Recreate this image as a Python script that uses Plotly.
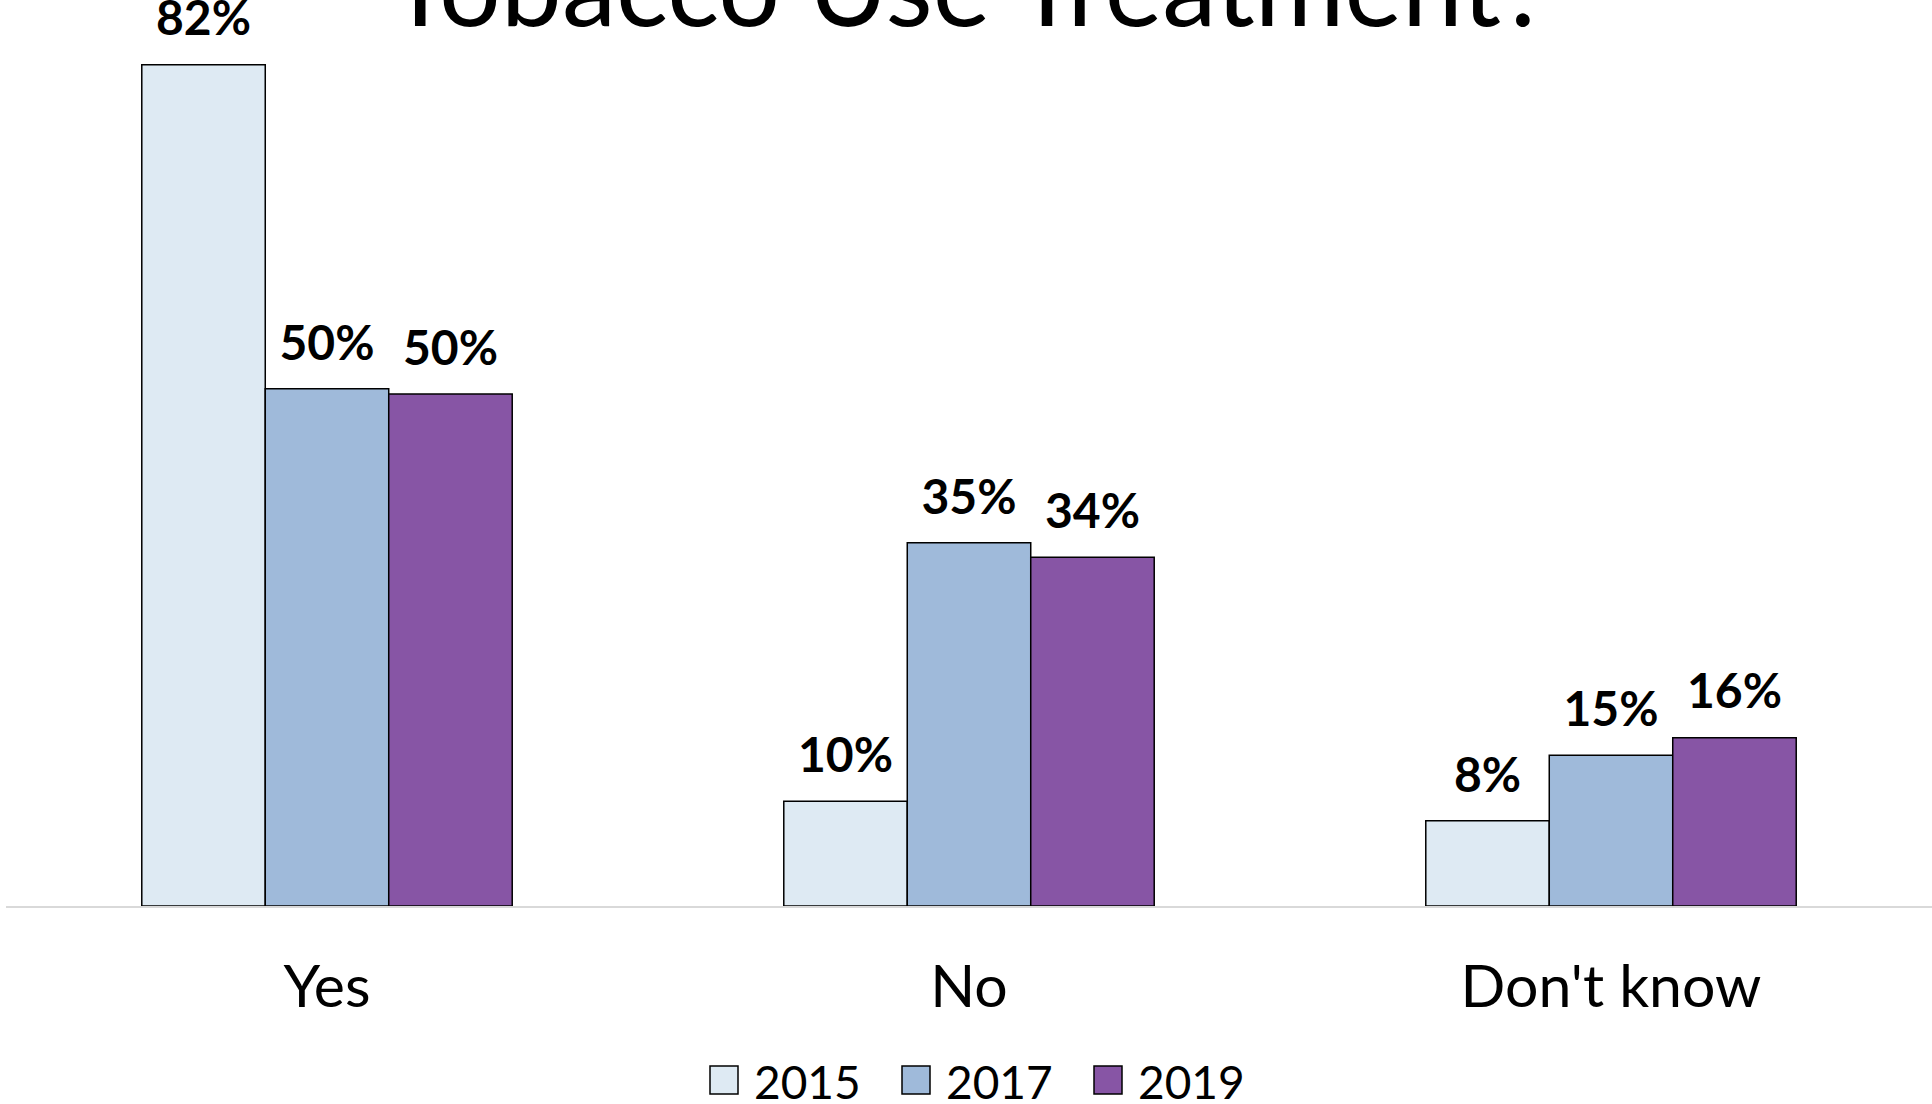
import plotly.graph_objects as go

# data
categories = ["Yes", "No", "Don't know"]
years = ["2015", "2017", "2019"]
values_2015 = [0.82, 0.102, 0.083]
values_2017 = [0.504, 0.354, 0.147]
values_2019 = [0.499, 0.340, 0.164]
colors = ["#DEEAF3", "#9FBADA", "#8755A5"]
title_text = "Tobacco Use Treatment?"

FONT = "Lato"
series = [values_2015, values_2017, values_2019]

fig = go.Figure()
for year, vals, color in zip(years, series, colors):
    fig.add_trace(go.Bar(
        x=categories, y=vals, name=year, offsetgroup=year,
        marker=dict(color=color, line=dict(color="black", width=1.5)),
        showlegend=False))
# value labels as grouped text points, an invisible marker keeps them off the bar top
for year, vals in zip(years, series):
    fig.add_trace(go.Scatter(
        x=categories, y=vals, offsetgroup=year, mode="markers+text",
        marker=dict(size=26, color="rgba(0,0,0,0)"),
        texttemplate="<b>%{y:.0%}</b>", textposition="top center",
        textfont=dict(family=FONT, size=48, color="black"),
        cliponaxis=False, showlegend=False, hoverinfo="skip"))

# legend drawn by hand so the swatches can be large
plot_left, plot_w = 6, 1926
shapes, annos = [], []
for i, (year, color) in enumerate(zip(years, colors)):
    ax = (710 + i * 192 - plot_left) / plot_w
    shapes.append(dict(type="rect", xref="paper", yref="paper",
                       xsizemode="pixel", ysizemode="pixel",
                       xanchor=ax, yanchor=0, x0=0, x1=28, y0=-160, y1=-188,
                       fillcolor=color, line=dict(color="black", width=1.5)))
    annos.append(dict(text=year, xref="paper", yref="paper", x=ax, y=0,
                      xshift=42, yshift=-175, xanchor="left", yanchor="middle",
                      showarrow=False, font=dict(family=FONT, size=46, color="black")))

annos.append(dict(text=title_text, xref="paper", yref="paper", x=0.5, y=1,
                  yshift=-31, xanchor="center", yanchor="bottom", showarrow=False,
                  font=dict(family=FONT, size=109, color="black")))

fig.update_layout(
    width=1932, height=1104,
    margin=dict(l=6, r=0, t=20, b=198),
    paper_bgcolor="white", plot_bgcolor="white",
    barmode="group", bargap=0.423, bargroupgap=0,
    scattermode="group", scattergap=0.423,
    shapes=shapes, annotations=annos,
    xaxis=dict(showline=True, linecolor="#D9D9D9", linewidth=2,
               tickfont=dict(family=FONT, size=59, color="black"),
               ticklabelstandoff=28, showgrid=False),
    yaxis=dict(visible=False, range=[0, 0.8635]),
)

fig.write_html("out.html", config={"displayModeBar": False},
               post_script="document.body.style.margin='0px';")
